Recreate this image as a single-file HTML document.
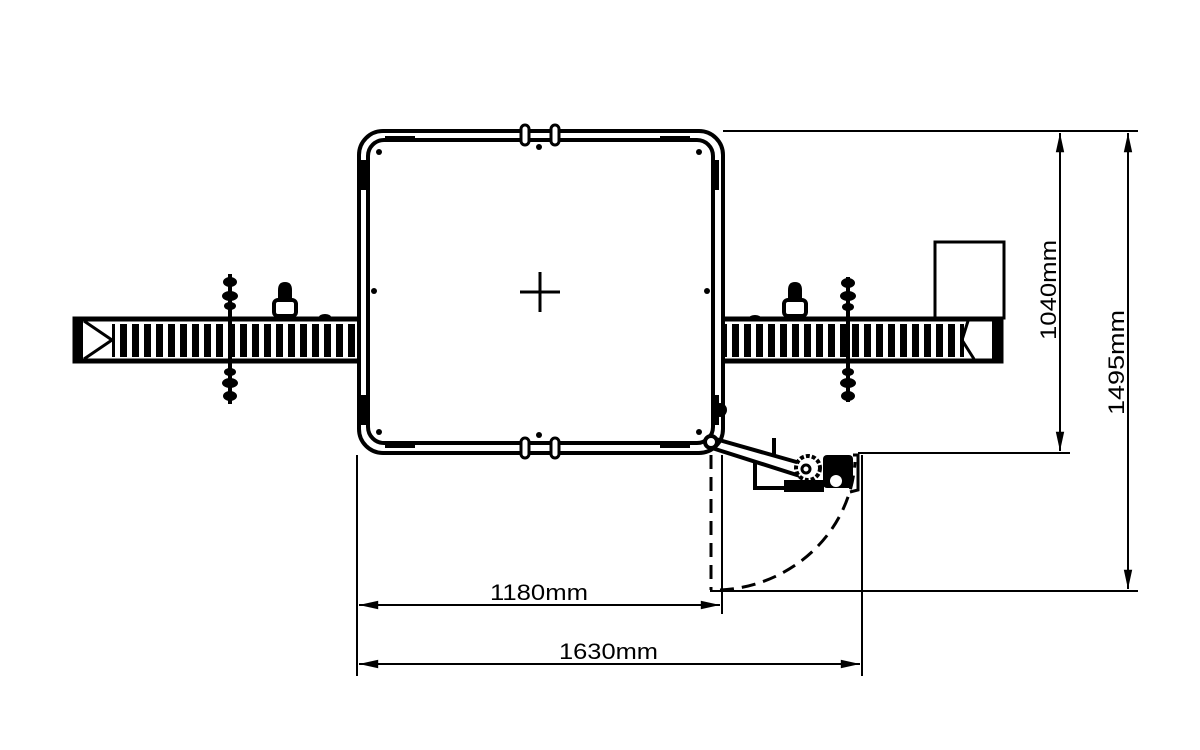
<!DOCTYPE html>
<html><head><meta charset="utf-8"><style>
html,body{margin:0;padding:0;background:#fff;}
svg{display:block}
text{font-family:"Liberation Sans",sans-serif;fill:#000}
</style></head><body>
<svg width="1200" height="750" viewBox="0 0 1200 750" xmlns="http://www.w3.org/2000/svg">
<defs>
<pattern id="slat" x="0" y="0" width="12" height="40" patternUnits="userSpaceOnUse">
<rect x="0" y="0" width="7" height="40" fill="#000"/>
</pattern>
<marker id="ar" viewBox="0 0 16 10" refX="16" refY="5" markerWidth="10" markerHeight="6" orient="auto-start-reverse"><path d="M0,1.5 L16,5 L0,8.5 z" fill="#000"/></marker>
</defs>
<rect width="1200" height="750" fill="#fff"/>

<!-- Left conveyor -->
<rect x="75" y="319" width="290" height="42" fill="none" stroke="#000" stroke-width="5"/>
<rect x="112" y="324" width="252" height="33" fill="url(#slat)"/>
<rect x="73" y="318" width="10" height="45" fill="#000"/>
<path d="M84,321 L112,340 L84,359" fill="none" stroke="#000" stroke-width="3"/>
<line x1="230" y1="274" x2="230" y2="404" stroke="#000" stroke-width="4"/>
<g fill="#000"><ellipse cx="230" cy="282" rx="7" ry="5"/><ellipse cx="230" cy="296" rx="8" ry="5"/><ellipse cx="230" cy="306" rx="6" ry="4"/>
<ellipse cx="230" cy="372" rx="6" ry="4"/><ellipse cx="230" cy="383" rx="8" ry="5"/><ellipse cx="230" cy="396" rx="7" ry="5"/></g>
<path d="M278,303 L278,290 Q278,282 285,282 Q292,282 292,290 L292,303 Z" fill="#000"/>
<rect x="274" y="300" width="22" height="16" rx="4" fill="#fff" stroke="#000" stroke-width="4"/>
<ellipse cx="325" cy="317" rx="6" ry="3" fill="#000"/>

<!-- Right conveyor -->
<rect x="717" y="319" width="284" height="42" fill="none" stroke="#000" stroke-width="5"/>
<rect x="716" y="324" width="248" height="33" fill="url(#slat)"/>
<rect x="992" y="318" width="10" height="45" fill="#000"/>
<path d="M968,321 L962,340 L974,359" fill="none" stroke="#000" stroke-width="3"/>
<line x1="848" y1="277" x2="848" y2="402" stroke="#000" stroke-width="4"/>
<g fill="#000"><ellipse cx="848" cy="283" rx="7" ry="5"/><ellipse cx="848" cy="296" rx="8" ry="5"/><ellipse cx="848" cy="307" rx="6" ry="4"/>
<ellipse cx="848" cy="372" rx="6" ry="4"/><ellipse cx="848" cy="383" rx="8" ry="5"/><ellipse cx="848" cy="396" rx="7" ry="5"/></g>
<path d="M788,303 L788,290 Q788,282 795,282 Q802,282 802,290 L802,303 Z" fill="#000"/>
<rect x="784" y="300" width="22" height="16" rx="4" fill="#fff" stroke="#000" stroke-width="4"/>
<ellipse cx="755" cy="318" rx="6" ry="3" fill="#000"/>
<rect x="935" y="242" width="69" height="76" fill="none" stroke="#000" stroke-width="3"/>

<!-- Frame -->
<rect x="359" y="131" width="364" height="322" rx="24" fill="#fff" stroke="#000" stroke-width="4"/>
<rect x="368" y="140" width="345" height="303" rx="16" fill="none" stroke="#000" stroke-width="4"/>
<g fill="#000">
<rect x="385" y="136" width="30" height="6"/><rect x="660" y="136" width="30" height="6"/>
<rect x="385" y="442" width="30" height="6"/><rect x="660" y="442" width="30" height="6"/>
<rect x="361" y="160" width="6" height="30"/><rect x="361" y="395" width="6" height="30"/>
<rect x="713" y="160" width="6" height="30"/><rect x="713" y="395" width="6" height="30"/>
<circle cx="379" cy="152" r="3"/><circle cx="699" cy="152" r="3"/><circle cx="379" cy="432" r="3"/><circle cx="699" cy="432" r="3"/>
<circle cx="539" cy="147" r="3"/><circle cx="539" cy="435" r="3"/>
<circle cx="374" cy="291" r="3"/><circle cx="707" cy="291" r="3"/>
<circle cx="720" cy="410" r="7"/>
</g>
<g fill="#fff" stroke="#000" stroke-width="3">
<rect x="521" y="125" width="8" height="20" rx="4"/><rect x="551" y="125" width="8" height="20" rx="4"/>
<rect x="521" y="438" width="8" height="20" rx="4"/><rect x="551" y="438" width="8" height="20" rx="4"/>
</g>
<line x1="520" y1="292" x2="560" y2="292" stroke="#000" stroke-width="3"/>
<line x1="540" y1="272" x2="540" y2="312" stroke="#000" stroke-width="3"/>

<!-- Door arm -->
<path d="M712,438 L800,463 M712,448 L800,476" stroke="#000" stroke-width="4" fill="none"/>
<circle cx="711" cy="442" r="6" fill="#fff" stroke="#000" stroke-width="4"/>
<path d="M755,463 L755,488 L790,488" fill="none" stroke="#000" stroke-width="4"/>
<line x1="774" y1="438" x2="774" y2="455" stroke="#000" stroke-width="4"/>
<circle cx="808" cy="468" r="12" fill="#fff" stroke="#000" stroke-width="4" stroke-dasharray="4 2"/>
<circle cx="806" cy="469" r="4" fill="#fff" stroke="#000" stroke-width="3"/>
<rect x="823" y="455" width="30" height="33" rx="4" fill="#000"/>
<circle cx="836" cy="481" r="6" fill="#fff"/>
<rect x="784" y="480" width="40" height="12" fill="#000"/>
<path d="M853,455 L858,455 L858,490 L850,492" fill="none" stroke="#000" stroke-width="3"/>

<!-- Door swing -->
<line x1="711" y1="455" x2="711" y2="590" stroke="#000" stroke-width="3" stroke-dasharray="14 8"/>
<path d="M720,590 A142 136 0 0 0 855,462" fill="none" stroke="#000" stroke-width="3" stroke-dasharray="14 8"/>
<line x1="710" y1="591" x2="1138" y2="591" stroke="#000" stroke-width="2"/>

<!-- Extension lines -->
<line x1="723" y1="131" x2="1138" y2="131" stroke="#000" stroke-width="2"/>
<line x1="858" y1="453" x2="1070" y2="453" stroke="#000" stroke-width="2"/>
<line x1="357" y1="455" x2="357" y2="676" stroke="#000" stroke-width="2"/>
<line x1="722" y1="455" x2="722" y2="614" stroke="#000" stroke-width="2"/>
<line x1="862" y1="455" x2="862" y2="676" stroke="#000" stroke-width="2"/>

<!-- Dimensions -->
<line x1="359" y1="605" x2="720" y2="605" stroke="#000" stroke-width="2" marker-start="url(#ar)" marker-end="url(#ar)"/>
<text x="490" y="600" font-size="22" textLength="98" lengthAdjust="spacingAndGlyphs">1180mm</text>
<line x1="359" y1="664" x2="860" y2="664" stroke="#000" stroke-width="2" marker-start="url(#ar)" marker-end="url(#ar)"/>
<text x="559" y="659" font-size="22" textLength="99" lengthAdjust="spacingAndGlyphs">1630mm</text>
<line x1="1060" y1="133" x2="1060" y2="451" stroke="#000" stroke-width="2" marker-start="url(#ar)" marker-end="url(#ar)"/>
<text transform="translate(1056,340) rotate(-90)" font-size="22" textLength="100" lengthAdjust="spacingAndGlyphs">1040mm</text>
<line x1="1128" y1="133" x2="1128" y2="589" stroke="#000" stroke-width="2" marker-start="url(#ar)" marker-end="url(#ar)"/>
<text transform="translate(1124,415) rotate(-90)" font-size="22" textLength="105" lengthAdjust="spacingAndGlyphs">1495mm</text>
</svg>
</body></html>
